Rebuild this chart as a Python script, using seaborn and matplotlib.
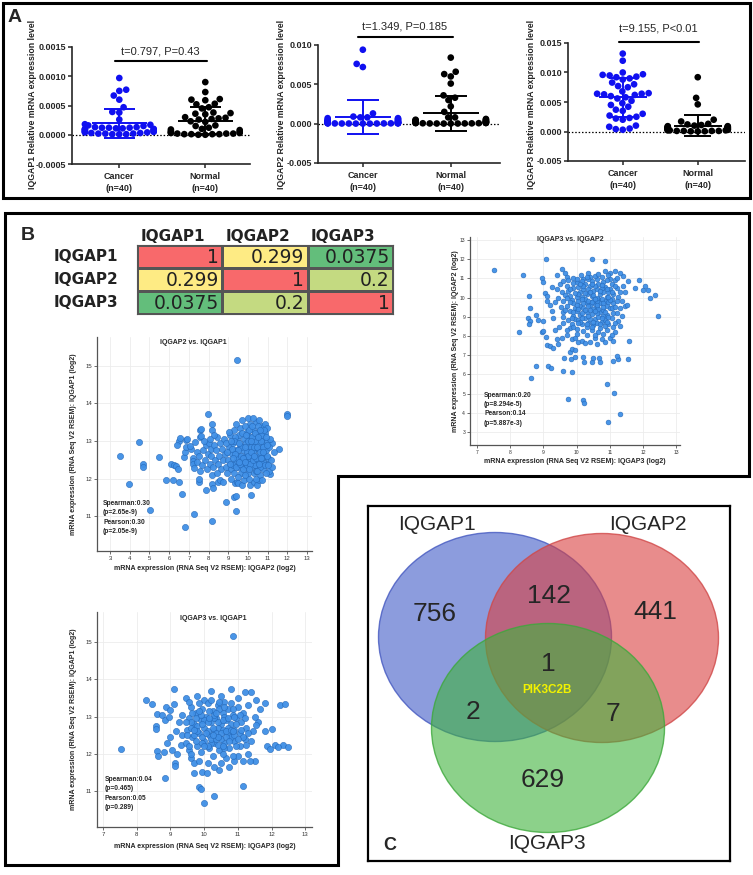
import numpy as np
import pandas as pd
import seaborn as sns
import matplotlib.pyplot as plt
from matplotlib.colors import LinearSegmentedColormap
from matplotlib.patches import Ellipse, Polygon, Rectangle
from matplotlib.ticker import FormatStrFormatter

# ---------------- data: panel A (relative mRNA expression, n=40 per group)
groups = ["Cancer", "Normal"]
iqgap1_cancer = [0.00097, 0.00077, 0.00075, 0.00067, 0.00060, 0.00047, 0.00039, 0.00038, 0.00026, 0.00018,
                 0.00017, 0.00016, 0.00015, 0.00013, 0.00013, 0.00012, 0.00012, 0.00012, 0.00011, 0.00011,
                 0.00010, 0.00010, 0.00009, 0.00009, 0.00008, 0.00007, 0.00006, 0.00006, 0.00005, 0.00005,
                 0.00004, 0.00004, 0.00003, 0.00003, 0.00002, 0.00002, 0.00002, 0.00001, 0.00001, 0.00001]
iqgap1_normal = [0.00090, 0.00073, 0.00061, 0.00060, 0.00059, 0.00053, 0.00052, 0.00047, 0.00045, 0.00038,
                 0.00037, 0.00036, 0.00035, 0.00030, 0.00029, 0.00028, 0.00027, 0.00026, 0.00023, 0.00022,
                 0.00016, 0.00015, 0.00012, 0.00010, 0.00009, 0.00008, 0.00006, 0.00005, 0.00004, 0.00003,
                 0.00003, 0.00002, 0.00002, 0.00001, 0.00001, 0.00001, 0.00000, 0.00000, 0.00001, 0.00002]
iqgap2_cancer = [0.0094, 0.0076, 0.0072, 0.0013, 0.0009, 0.0008, 0.0008, 0.0007, 0.0007, 0.0006,
                 0.0005, 0.0005, 0.0004, 0.0004, 0.0003, 0.0003, 0.0003, 0.0002, 0.0002, 0.0002,
                 0.0002, 0.0001, 0.0001, 0.0001, 0.0001, 0.0001, 0.0001, 0.00005, 0.00005, 0.00005,
                 0.00005, 0.00004, 0.00003, 0.00003, 0.00002, 0.00002, 0.00002, 0.00001, 0.00001, 0.00001]
iqgap2_normal = [0.0084, 0.0066, 0.0063, 0.0060, 0.0051, 0.0036, 0.0033, 0.0030, 0.0022, 0.0015,
                 0.0008, 0.0008, 0.0006, 0.0005, 0.0005, 0.0004, 0.0004, 0.0004, 0.0003, 0.0003,
                 0.0003, 0.0002, 0.0002, 0.0002, 0.0002, 0.0001, 0.0001, 0.0001, 0.0001, 0.0001,
                 0.00008, 0.00006, 0.00005, 0.00004, 0.00003, 0.00003, 0.00002, 0.00002, 0.00001, 0.00001]
iqgap3_cancer = [0.0132, 0.0120, 0.0100, 0.0097, 0.0096, 0.0095, 0.0093, 0.0092, 0.0090, 0.0088,
                 0.0083, 0.0080, 0.0077, 0.0075, 0.0068, 0.0065, 0.0064, 0.0064, 0.0063, 0.0062,
                 0.0060, 0.0058, 0.0056, 0.0052, 0.0048, 0.0045, 0.0042, 0.0037, 0.0035, 0.0030,
                 0.0027, 0.0025, 0.0023, 0.0022, 0.0020, 0.0010, 0.0008, 0.0005, 0.0004, 0.0003]
iqgap3_normal = [0.0092, 0.0057, 0.0046, 0.0020, 0.0017, 0.0013, 0.0012, 0.0011, 0.0010, 0.0009,
                 0.0009, 0.0008, 0.0008, 0.0007, 0.0007, 0.0007, 0.0006, 0.0006, 0.0006, 0.0005,
                 0.0005, 0.0005, 0.0005, 0.0004, 0.0004, 0.0004, 0.0003, 0.0003, 0.0003, 0.0003,
                 0.0002, 0.0002, 0.0002, 0.0001, 0.0001, 0.0001, 0.0001, 0.00005, 0.00003, 0.00002]
t_tests = ["t=0.797, P=0.43", "t=1.349, P=0.185", "t=9.155, P<0.01"]

# ---------------- data: panel B correlation table
genes = ["IQGAP1", "IQGAP2", "IQGAP3"]
corr_values = [[1, 0.299, 0.0375],
               [0.299, 1, 0.2],
               [0.0375, 0.2, 1]]

# ---------------- data: panel B scatter plots (log2 RSEM)
pts_iqgap3_iqgap2 = [
    (7.52, 11.42), (8.38, 11.18), (8.27, 8.19), (8.63, 5.82), (8.77, 6.44), (9.08, 12.0), (9.15, 6.44), (9.22, 6.32),
    (9.58, 6.2), (9.87, 6.1), (9.73, 4.7), (10.2, 4.65), (10.23, 4.52), (10.47, 12.0), (10.84, 11.93), (10.9, 5.48),
    (11.13, 5.05), (11.29, 3.94), (10.93, 3.5), (11.59, 7.76), (11.55, 6.82), (11.25, 6.8), (11.2, 6.98), (11.1, 6.7),
    (10.7, 6.64), (10.68, 6.84), (10.45, 6.63), (10.5, 6.88), (10.22, 6.64), (10.2, 6.9), (9.84, 6.8), (9.94, 6.92),
    (9.62, 6.88), (9.8, 7.17), (9.87, 7.3), (9.96, 7.27), (12.44, 9.06), (12.2, 10.0), (12.35, 10.15), (12.15, 10.42),
    (12.0, 10.42), (12.05, 10.6), (11.88, 10.9), (11.76, 10.52), (8.53, 8.92), (8.6, 8.78), (8.58, 8.6), (8.57, 10.1),
    (8.6, 9.45), (8.78, 9.1), (8.85, 8.85), (9.0, 8.77), (8.95, 11.0), (9.0, 10.8), (8.95, 8.2), (9.0, 8.25),
    (9.05, 10.25), (9.1, 10.1), (9.12, 9.85), (9.2, 9.6), (9.25, 9.3), (9.3, 8.95), (9.08, 7.95), (9.12, 7.55),
    (9.2, 7.5), (9.3, 7.35), (9.4, 7.85), (9.45, 7.6), (9.35, 8.3), (9.48, 8.45), (9.55, 7.9), (9.6, 8.7),
    (9.4, 11.18), (9.5, 10.7), (9.55, 10.3), (9.45, 10.0), (9.35, 9.75), (9.52, 9.5), (9.6, 9.25), (9.58, 9.0),
    (9.65, 11.3), (9.7, 11.05), (9.4, 10.45), (9.25, 10.55), (9.55, 11.5), (9.8, 8.4), (9.72, 8.05), (9.85, 7.85),
    (9.95, 7.9), (10.05, 7.7), (10.15, 7.72), (10.25, 7.65), (10.4, 7.7), (10.55, 7.9), (10.6, 7.6), (10.75, 7.85),
    (10.85, 7.7), (11.0, 7.9), (11.1, 7.75), (11.15, 8.2), (11.3, 8.5), (11.25, 8.8), (11.35, 9.05), (11.45, 9.55),
    (11.5, 9.6), (11.45, 10.3), (11.4, 10.6), (11.4, 11.15), (11.55, 10.85), (11.3, 11.3), (11.15, 11.4), (11.0, 11.28),
    (10.85, 11.4), (9.7, 10.6), (9.75, 10.35), (9.8, 10.1), (9.85, 9.9), (9.9, 9.7), (9.95, 9.45), (9.7, 9.55),
    (9.8, 9.3), (9.9, 9.05), (9.75, 8.85), (9.85, 8.6), (9.95, 8.9), (10.0, 10.8), (10.05, 10.55), (10.1, 10.3),
    (10.0, 10.05), (10.05, 9.8), (10.1, 9.55), (10.0, 9.3), (10.1, 9.1), (10.05, 8.85), (10.15, 8.6), (10.0, 8.35),
    (10.2, 10.95), (10.25, 10.7), (10.2, 10.45), (10.3, 10.2), (10.25, 9.95), (10.3, 9.7), (10.2, 9.45), (10.3, 9.25),
    (10.25, 8.95), (10.35, 8.7), (10.3, 8.45), (10.4, 11.1), (10.45, 10.85), (10.4, 10.6), (10.5, 10.35), (10.45, 10.1),
    (10.5, 9.85), (10.4, 9.6), (10.5, 9.4), (10.45, 9.15), (10.55, 8.9), (10.5, 8.55), (10.6, 10.95), (10.65, 10.7),
    (10.6, 10.45), (10.7, 10.2), (10.65, 9.95), (10.7, 9.7), (10.6, 9.5), (10.7, 9.25), (10.65, 9.0), (10.75, 8.75),
    (10.7, 8.4), (10.8, 10.8), (10.85, 10.55), (10.8, 10.3), (10.9, 10.05), (10.85, 9.8), (10.9, 9.55), (10.8, 9.35),
    (10.9, 9.1), (10.85, 8.85), (10.95, 8.6), (11.0, 10.95), (11.05, 10.7), (11.0, 10.45), (11.1, 10.2), (11.05, 9.95),
    (11.1, 9.7), (11.0, 9.45), (11.1, 9.2), (11.05, 8.95), (11.15, 10.9), (11.2, 10.5), (11.25, 10.05), (11.2, 9.8),
    (11.3, 9.45), (11.2, 9.2), (9.6, 10.85), (9.65, 10.15), (9.6, 9.85), (9.88, 11.0), (10.12, 11.2), (10.35, 11.3),
    (10.55, 11.15), (10.75, 11.05), (10.95, 11.2), (9.9, 10.75), (10.15, 10.85), (10.35, 10.95), (10.55, 10.6), (10.75, 10.5),
    (10.95, 10.3), (10.15, 10.05), (10.35, 9.85), (10.55, 9.65), (10.75, 9.95), (10.95, 9.75), (10.2, 9.7), (10.4, 9.35),
    (10.6, 9.2), (10.8, 9.05), (10.1, 8.75), (10.4, 8.9), (10.6, 8.7), (10.85, 8.5), (9.9, 8.45), (10.2, 8.25),
    (10.45, 8.3), (10.65, 8.2), (10.9, 8.3), (11.1, 8.45), (10.0, 8.1), (10.3, 8.05), (10.55, 8.05), (10.8, 8.1),
    (11.05, 8.05), (9.7, 8.3),
    (9.75, 10.9), (9.9, 10.5), (10.05, 10.2), (10.15, 9.95), (10.35, 10.45), (10.5, 10.15), (10.6, 9.85), (10.75, 10.65),
    (10.9, 10.45), (11.05, 10.3), (9.95, 10.25), (10.2, 10.6), (10.4, 10.3), (10.6, 10.0), (10.8, 9.7), (11.0, 9.9),
    (11.15, 10.6), (9.8, 9.75), (10.0, 9.6), (10.25, 9.35), (10.45, 9.75), (10.65, 9.4), (10.85, 9.25), (11.05, 9.45),
    (9.9, 9.25), (10.15, 9.2), (10.35, 9.05), (10.55, 9.3), (10.75, 8.95), (10.95, 9.0), (11.15, 9.5), (9.85, 8.95),
    (10.05, 8.7), (10.3, 8.6), (10.5, 8.75), (10.7, 8.6), (10.9, 8.75), (11.15, 8.7), (9.65, 9.35), (9.7, 10.0),
    (9.8, 10.45), (10.0, 10.95), (10.3, 11.05), (10.65, 11.25), (10.9, 10.9), (11.2, 11.0), (11.3, 10.3), (11.35, 9.85),
    (10.1, 10.7), (10.45, 10.7), (10.7, 10.35), (10.95, 10.05), (10.25, 10.25), (10.55, 9.95), (10.35, 9.55), (10.8, 9.5),
    (10.05, 9.4), (10.6, 9.6), (10.15, 8.95), (10.45, 8.45)]

pts_iqgap2_iqgap1 = [
    (9.45, 15.15), (7.95, 13.72), (11.97, 13.72), (11.98, 13.67), (3.5, 12.6), (4.47, 12.98), (4.67, 12.38), (4.68, 12.3),
    (3.95, 11.85), (5.5, 12.57), (5.85, 11.95), (6.2, 11.95), (6.1, 12.38), (6.25, 12.35), (6.33, 12.33), (6.45, 12.25),
    (6.5, 11.9), (6.64, 11.6), (6.5, 13.0), (6.55, 13.07), (6.85, 13.02), (6.9, 13.05), (6.4, 12.9), (6.75, 12.57),
    (6.8, 12.7), (6.85, 12.85), (7.1, 12.78), (7.05, 12.88), (7.2, 12.55), (7.22, 12.46), (7.2, 12.38), (7.25, 12.29),
    (7.4, 12.72), (7.3, 12.98), (7.55, 13.1), (7.6, 13.12), (7.58, 13.3), (7.6, 13.33), (8.19, 13.45), (8.19, 13.3),
    (7.5, 11.9), (7.52, 12.0), (7.55, 12.2), (7.85, 11.7), (8.2, 12.1), (8.2, 11.85), (8.25, 11.75), (8.5, 11.9),
    (8.6, 11.95), (8.75, 11.9), (8.87, 11.38), (9.3, 11.5), (9.4, 11.53), (9.35, 11.88), (9.45, 11.92), (9.5, 11.88),
    (9.7, 11.82), (10.16, 11.55), (10.1, 11.82), (10.3, 11.9), (10.45, 11.82), (10.55, 11.95), (11.1, 12.13), (11.6, 12.78),
    (11.2, 12.95), (5.03, 11.15), (7.26, 11.05), (9.4, 11.13), (8.16, 10.88), (6.8, 10.7),
    (7.4, 12.45), (7.5, 12.6), (7.65, 12.35), (7.7, 12.75), (7.8, 12.5), (7.85, 12.9), (7.9, 12.25), (7.95, 12.65),
    (8.0, 12.95), (8.05, 12.4), (8.1, 12.8), (8.15, 12.6), (8.25, 12.3), (8.3, 12.9), (8.35, 12.5), (8.4, 12.75),
    (8.45, 13.1), (8.5, 12.4), (8.55, 12.6), (8.6, 12.95), (8.65, 12.25), (8.7, 12.8), (8.75, 12.5), (8.8, 13.05),
    (8.3, 13.15), (8.05, 13.05), (7.75, 13.0), (8.45, 12.15), (8.9, 12.3), (8.85, 12.65),
    (9.0, 12.5), (9.05, 12.85), (9.1, 13.15), (9.15, 12.25), (9.2, 12.65), (9.25, 12.95), (9.3, 13.3), (9.3, 12.15),
    (9.35, 12.45), (9.4, 12.75), (9.45, 13.05), (9.5, 12.3), (9.55, 12.6), (9.6, 12.9), (9.6, 13.35), (9.65, 12.15),
    (9.7, 12.45), (9.75, 12.75), (9.8, 13.05), (9.85, 12.3), (9.9, 12.6), (9.9, 12.95), (9.95, 13.25), (10.0, 12.15),
    (10.0, 12.45), (10.05, 12.8), (10.1, 13.1), (10.1, 13.45), (10.15, 12.3), (10.2, 12.6), (10.2, 12.95), (10.25, 13.3),
    (10.3, 12.15), (10.3, 12.45), (10.35, 12.8), (10.4, 13.1), (10.4, 13.5), (10.45, 12.3), (10.5, 12.6), (10.5, 12.95),
    (10.55, 13.25), (10.6, 12.1), (10.6, 12.45), (10.65, 12.75), (10.7, 13.05), (10.7, 13.4), (10.75, 12.25), (10.8, 12.6),
    (10.8, 12.9), (10.85, 13.2), (10.9, 12.4), (10.9, 12.75), (10.95, 13.0), (11.0, 12.55), (11.05, 12.85), (9.4, 13.45),
    (9.7, 13.55), (9.85, 13.4), (10.0, 13.6), (10.25, 13.6), (10.55, 13.55), (10.85, 13.45), (9.15, 12.0), (9.5, 12.05),
    (9.8, 11.95), (10.05, 11.98), (10.4, 12.0), (10.7, 11.95), (11.05, 12.2), (11.15, 12.5), (11.2, 12.3), (11.3, 12.7),
    (9.95, 12.7), (10.25, 12.7), (10.55, 12.8), (10.15, 12.85), (9.65, 12.85), (9.55, 13.15), (10.35, 13.0), (10.65, 13.0),
    (10.0, 13.0), (9.85, 12.1), (10.45, 12.5), (10.75, 12.45), (9.25, 12.35), (9.45, 12.55), (9.75, 12.25), (10.1, 12.55),
    (10.35, 12.35), (10.6, 12.3), (10.9, 12.15), (9.05, 13.25), (8.95, 12.15), (9.35, 13.1), (10.95, 13.35), (11.1, 13.05),
    (9.1, 12.4), (9.2, 12.8), (9.3, 13.0), (9.4, 12.3), (9.5, 12.75), (9.55, 12.95), (9.65, 12.6), (9.7, 13.2),
    (9.8, 12.55), (9.85, 12.85), (9.95, 12.35), (10.0, 12.6), (10.05, 13.3), (10.1, 12.4), (10.15, 12.7), (10.2, 13.1),
    (10.25, 12.5), (10.3, 12.85), (10.35, 13.2), (10.4, 12.55), (10.45, 12.85), (10.5, 13.4), (10.55, 12.4), (10.6, 12.7),
    (10.65, 13.15), (10.7, 12.55), (10.75, 12.85), (10.8, 13.3), (10.85, 12.35), (10.95, 12.6), (10.95, 12.9), (11.0, 12.35),
    (9.9, 13.15), (10.2, 13.4), (10.6, 13.3), (9.6, 12.4), (9.35, 12.65), (9.75, 12.55), (10.05, 12.25), (10.4, 12.2),
    (10.75, 12.7), (10.5, 13.1), (10.15, 13.0), (9.85, 12.45), (10.3, 12.6), (10.65, 12.55), (10.45, 12.2), (9.55, 12.45),
    (10.9, 13.1), (9.25, 12.55), (8.95, 12.7), (8.9, 12.95), (9.15, 13.0)]

pts_iqgap3_iqgap1 = [
    (10.85, 15.15), (9.1, 13.73), (10.8, 13.73), (11.2, 13.67), (11.4, 13.65), (10.2, 13.68), (8.28, 13.44), (8.45, 13.33),
    (9.1, 13.33), (8.6, 13.08), (8.75, 13.05), (8.88, 13.25), (9.0, 13.18), (8.56, 12.74), (8.57, 12.66), (8.85, 12.9),
    (8.95, 13.0), (11.82, 13.37), (12.25, 13.3), (12.4, 13.34), (11.65, 13.2), (11.6, 12.85), (11.55, 12.78), (11.8, 12.6),
    (12.0, 12.66), (11.85, 12.2), (12.1, 12.24), (12.35, 12.25), (7.52, 12.12), (8.61, 12.08), (8.62, 11.93), (9.12, 11.75),
    (9.14, 11.67), (8.84, 11.36), (9.71, 11.49), (9.93, 11.52), (10.08, 11.48), (9.86, 11.12), (9.92, 11.05), (10.0, 10.68),
    (10.29, 10.86), (10.45, 11.57), (11.16, 11.14), (11.51, 11.82), (11.36, 11.82), (11.14, 11.82), (10.88, 11.82), (11.94, 12.13),
    (12.2, 12.18), (12.5, 12.18),
    (8.8, 12.05), (8.9, 12.3), (9.0, 12.45), (9.05, 12.1), (9.2, 12.0), (9.3, 12.25), (9.15, 12.6), (9.25, 12.85),
    (9.35, 13.05), (9.45, 13.5), (9.6, 11.9), (9.55, 12.1), (9.7, 11.75), (9.85, 11.8), (10.1, 11.75), (10.3, 11.65),
    (10.5, 11.75), (10.65, 11.9), (10.75, 11.65), (11.0, 11.95), (11.3, 12.0), (11.4, 12.35), (11.45, 12.6), (11.3, 13.3),
    (11.5, 13.0), (11.55, 13.45), (11.0, 13.5), (10.5, 13.55), (9.8, 13.55), (10.0, 13.45), (10.6, 13.4), (9.35, 12.5),
    (9.45, 12.3), (9.5, 12.65), (9.55, 12.95), (9.6, 13.25), (9.65, 12.45), (9.7, 12.8), (9.75, 13.1), (9.8, 12.2),
    (9.85, 12.55), (9.9, 12.9), (9.95, 13.2), (10.0, 12.35), (10.0, 12.7), (10.05, 13.0), (10.1, 13.35), (10.15, 12.15),
    (10.15, 12.5), (10.2, 12.85), (10.25, 13.15), (10.3, 12.3), (10.3, 12.65), (10.35, 12.95), (10.4, 13.3), (10.45, 12.1),
    (10.45, 12.45), (10.5, 12.8), (10.55, 13.1), (10.6, 12.3), (10.6, 12.6), (10.65, 12.9), (10.7, 13.2), (10.75, 12.15),
    (10.75, 12.5), (10.8, 12.8), (10.85, 13.05), (10.9, 12.35), (10.9, 12.65), (10.95, 12.95), (11.0, 13.25), (11.05, 12.2),
    (11.05, 12.55), (11.1, 12.85), (11.15, 13.1), (11.2, 12.4), (11.25, 12.7), (9.6, 12.0), (9.9, 12.05), (10.25, 11.95),
    (10.55, 12.0), (10.85, 11.95), (9.55, 13.4), (9.85, 13.35), (10.2, 13.45), (10.45, 13.4), (10.8, 13.35), (9.7, 12.5),
    (10.1, 12.6), (10.4, 12.7), (10.7, 12.7), (10.0, 12.9), (10.3, 12.95), (10.6, 13.0), (10.9, 13.0), (9.8, 12.75),
    (10.2, 12.3), (10.5, 12.4), (10.8, 12.45), (10.1, 12.2), (10.4, 12.25), (9.95, 12.45), (10.65, 12.45), (9.6, 12.7),
    (11.15, 12.45), (10.35, 12.55), (9.75, 12.95), (10.55, 12.65),
    (9.5, 12.5), (9.6, 12.85), (9.65, 13.1), (9.75, 12.35), (9.8, 12.6), (9.9, 13.05), (9.95, 12.3), (10.05, 12.55),
    (10.1, 12.85), (10.15, 13.15), (10.2, 12.4), (10.25, 12.7), (10.3, 13.05), (10.35, 12.4), (10.4, 12.85), (10.45, 13.2),
    (10.5, 12.55), (10.55, 12.9), (10.6, 12.15), (10.65, 12.6), (10.7, 12.95), (10.75, 12.35), (10.8, 12.65), (10.85, 13.2),
    (10.9, 12.5), (10.95, 12.8), (11.0, 12.4), (11.05, 13.05), (11.1, 12.65), (11.2, 12.95), (9.55, 12.2), (9.7, 12.65),
    (9.95, 12.8), (10.15, 12.95), (10.4, 12.45), (10.55, 12.2), (10.85, 12.6), (10.25, 12.5), (10.0, 12.2), (9.85, 13.15),
    (10.6, 13.25), (10.35, 13.1), (10.95, 12.2), (9.45, 12.85), (11.25, 12.25), (11.3, 12.55)]

scatter_titles = ["IQGAP3 vs. IQGAP2", "IQGAP2 vs. IQGAP1", "IQGAP3 vs. IQGAP1"]
scatter_xlabels = ["IQGAP3", "IQGAP2", "IQGAP3"]
scatter_ylabels = ["IQGAP2", "IQGAP1", "IQGAP1"]
scatter_stats = ["Spearman:0.20\n(p=8.294e-5)\nPearson:0.14\n(p=5.887e-3)",
                 "Spearman:0.30\n(p=2.65e-9)\nPearson:0.30\n(p=2.05e-9)",
                 "Spearman:0.04\n(p=0.465)\nPearson:0.05\n(p=0.289)"]

# ---------------- data: panel C venn counts
venn_sets = ["IQGAP1", "IQGAP2", "IQGAP3"]
venn_counts = {"100": 756, "010": 441, "001": 629, "110": 142, "101": 2, "011": 7, "111": 1}
venn_shared_gene = "PIK3C2B"

# ---------------- figure setup
sns.set_style("ticks")
plt.rcParams["font.family"] = ["Liberation Sans", "DejaVu Sans"]
W, H = 753, 875
fig = plt.figure(figsize=(W / 100, H / 100), dpi=100)


def box(l, t, r, b):
    return [l / W, 1 - b / H, (r - l) / W, (b - t) / H]


# ---------------- panel A
a_data = [(iqgap1_cancer, iqgap1_normal), (iqgap2_cancer, iqgap2_normal), (iqgap3_cancer, iqgap3_normal)]
a_boxes = [(72, 47, 250, 164), (318, 45, 500, 163), (568, 43, 745, 161)]
a_ylims = [(-0.0005, 0.0015), (-0.005, 0.010), (-0.005, 0.015)]
a_xlims = [(-0.55, 1.52), (-0.51, 1.56), (-0.73, 1.63)]
a_ysteps = [0.0005, 0.005, 0.005]
a_fmt = ["%.4f", "%.3f", "%.3f"]
a_bar_y = [0.88, 1.07, 1.01]
a_txt_y = [0.96, 1.16, 1.12]
a_label_x = [33, 282, 532]
colors = {"Cancer": "#1010F0", "Normal": "black"}

for k in range(3):
    ax = fig.add_axes(box(*a_boxes[k]))
    cancer, normal = a_data[k]
    df = pd.DataFrame({"group": ["Cancer"] * len(cancer) + ["Normal"] * len(normal),
                       "value": cancer + normal})
    sns.swarmplot(data=df, x="group", y="value", hue="group", palette=colors, order=groups,
                  size=4.8, ax=ax, legend=False, warn_thresh=1, zorder=2)
    for i, g in enumerate(groups):
        vals = np.array(a_data[k][i])
        m, sd = vals.mean(), vals.std(ddof=1)
        c = colors[g]
        ax.hlines(m, i - 0.32, i + 0.32, color=c, lw=1.4, zorder=3)
        ax.vlines(i, m - sd, m + sd, color=c, lw=1.4, zorder=3)
        ax.hlines([m - sd, m + sd], i - 0.18, i + 0.18, color=c, lw=1.4, zorder=3)
    ax.axhline(0, ls=(0, (1.2, 1.5)), color="black", lw=0.9, zorder=1)
    ax.set_ylim(*a_ylims[k])
    ax.set_xlim(*a_xlims[k])
    lo, hi = a_ylims[k]
    ax.set_yticks(np.arange(lo, hi + a_ysteps[k] / 2, a_ysteps[k]))
    ax.yaxis.set_major_formatter(FormatStrFormatter(a_fmt[k]))
    ax.set_xticks([0, 1])
    ax.set_xticklabels([g + "\n(n=40)" for g in groups], fontsize=6.5, fontweight="bold", linespacing=1.4)
    ax.tick_params(axis="y", labelsize=6.5, length=3, width=1.1, pad=1)
    ax.tick_params(axis="x", length=3, width=1.1, pad=3)
    for lab in ax.get_yticklabels():
        lab.set_fontweight("bold")
    sns.despine(ax=ax)
    ax.spines["left"].set_linewidth(1.2)
    ax.spines["bottom"].set_linewidth(1.2)
    ax.set_xlabel("")
    ax.set_ylabel("")
    ax.patch.set_alpha(0)
    tr = ax.get_xaxis_transform()
    ax.plot([-0.05, 1.02], [a_bar_y[k]] * 2, color="black", lw=1.5, transform=tr, clip_on=False)
    ax.text(0.48, a_txt_y[k], t_tests[k], transform=tr, ha="center", va="center", fontsize=8)
    fig.text(a_label_x[k] / W, 1 - 104 / H, genes[k] + " Relative mRNA expression level",
             rotation=90, ha="center", va="center", fontsize=6.3, fontweight="bold")

# ---------------- panel B: correlation table
corr_df = pd.DataFrame(corr_values, index=genes, columns=genes)
flat = np.array(corr_values).ravel()
vmin, vmax, vmid = flat.min(), flat.max(), np.median(flat)
cmap = LinearSegmentedColormap.from_list(
    "excel", [(0, "#63BE7B"), ((vmid - vmin) / (vmax - vmin), "#FFEB84"), (1, "#F8696B")])
axt = fig.add_axes(box(137, 245, 393, 314))
sns.heatmap(corr_df, ax=axt, cmap=cmap, vmin=vmin, vmax=vmax, cbar=False,
            linewidths=0.8, linecolor="#555555")
axt.set_xticks([])
axt.set_yticks([])
axt.set_xlabel("")
axt.set_ylabel("")
for s in axt.spines.values():
    s.set_visible(True)
    s.set_linewidth(0.8)
    s.set_color("#555555")
for i in range(3):
    for j in range(3):
        v = corr_values[i][j]
        axt.text(j + 0.96, i + 0.55, f"{v:g}", ha="right", va="center", fontsize=13.5,
                 color="#222222", family="DejaVu Sans")
    axt.text(i + 0.04, -0.38, genes[i], ha="left", va="center", fontsize=11,
             fontweight="bold", family="DejaVu Sans", color="#222222")
    axt.text(-0.22, i + 0.5, genes[i], ha="right", va="center", fontsize=11,
             fontweight="bold", family="DejaVu Sans", color="#222222")

# ---------------- panel B: scatter plots
sc_data = [pts_iqgap3_iqgap2, pts_iqgap2_iqgap1, pts_iqgap3_iqgap1]
sc_boxes = [(470, 237, 680, 445), (97, 337, 312, 551), (97, 612, 312, 827)]
sc_xlims = [(6.79, 13.11), (2.34, 13.25), (6.82, 13.2)]
sc_ylims = [(2.32, 13.16), (10.07, 15.77), (10.04, 15.8)]
sc_xticks = [range(7, 14), range(3, 14), range(7, 14)]
sc_yticks = [range(3, 14), range(11, 16), range(11, 16)]
sc_msize = [12, 20, 20]
sc_tick_fs = [3.6, 4.3, 4.3]
sc_title_x = [0.48, 0.45, 0.54]
sc_title_y = [0.99, 0.972, 0.972]
sc_stat_xy = [(0.067, 0.255), (0.028, 0.238), (0.037, 0.237)]
sc_ylab_x = [-0.067, -0.107, -0.107]
sc_xlab_y = [-0.08, -0.08, -0.09]

for k in range(3):
    ax = fig.add_axes(box(*sc_boxes[k]))
    xy = np.array(sc_data[k])
    sns.scatterplot(x=xy[:, 0], y=xy[:, 1], ax=ax, s=sc_msize[k], color="#3F8FE6",
                    edgecolor="#2468B8", linewidth=0.4, alpha=0.95, zorder=3)
    ax.set_xlim(*sc_xlims[k])
    ax.set_ylim(*sc_ylims[k])
    ax.set_xticks(list(sc_xticks[k]))
    ax.set_yticks(list(sc_yticks[k]))
    ax.grid(True, color="#ECECEC", lw=0.6)
    ax.set_axisbelow(True)
    sns.despine(ax=ax)
    for s in ("left", "bottom"):
        ax.spines[s].set_color("#555555")
        ax.spines[s].set_linewidth(0.9)
    ax.tick_params(labelsize=sc_tick_fs[k], length=2, width=0.5, pad=1.5, colors="#333333")
    ax.text(sc_title_x[k], sc_title_y[k], scatter_titles[k], transform=ax.transAxes,
            ha="center", va="center", fontsize=5, fontweight="bold")
    ax.text(*sc_stat_xy[k], scatter_stats[k], transform=ax.transAxes, ha="left", va="top",
            fontsize=4.8, fontweight="bold", linespacing=1.45)
    ax.text(0.5, sc_xlab_y[k], "mRNA expression (RNA Seq V2 RSEM): " + scatter_xlabels[k] + " (log2)",
            transform=ax.transAxes, ha="center", va="center", fontsize=5, fontweight="bold")
    ax.text(sc_ylab_x[k], 0.5, "mRNA expression (RNA Seq V2 RSEM): " + scatter_ylabels[k] + " (log2)",
            transform=ax.transAxes, ha="center", va="center", rotation=90, fontsize=5, fontweight="bold")

# ---------------- panel C: venn diagram
av = fig.add_axes(box(368, 506, 730, 861))
av.set_xlim(368, 730)
av.set_ylim(861, 506)
av.set_xticks([])
av.set_yticks([])
for s in av.spines.values():
    s.set_linewidth(1.6)
    s.set_color("black")
ell = {"IQGAP1": ((495, 637), "#3F5BC7", "#4458C0"),
       "IQGAP2": ((602, 638), "#D94040", "#D04848"),
       "IQGAP3": ((548, 728), "#3FB33D", "#3DA83B")}
for name in venn_sets:
    (cx, cy), fc, ec = ell[name]
    av.add_patch(Ellipse((cx, cy), 233, 209, facecolor=fc, alpha=0.6, edgecolor="none"))
    av.add_patch(Ellipse((cx, cy), 233, 209, facecolor="none", edgecolor=ec, lw=1.0, alpha=0.8))
name_pos = {"IQGAP1": (437, 525), "IQGAP2": (648, 525), "IQGAP3": (547, 844)}
for name in venn_sets:
    av.text(*name_pos[name], name, ha="center", va="center", fontsize=15)
count_pos = {"100": (435, 614), "010": (655, 612), "001": (543, 780), "110": (549, 596),
             "101": (473, 712), "011": (613, 714), "111": (548, 664)}
for key, n in venn_counts.items():
    av.text(*count_pos[key], str(n), ha="center", va="center", fontsize=19)
av.text(547, 690, venn_shared_gene, ha="center", va="center", fontsize=8.5,
        fontweight="bold", color="#F2F200")

# ---------------- panel frames and letters
ov = fig.add_axes([0, 0, 1, 1])
ov.set_xlim(0, W)
ov.set_ylim(H, 0)
ov.axis("off")
ov.patch.set_alpha(0)
ov.add_patch(Rectangle((3, 3), 747, 195, fill=False, lw=2.2, edgecolor="black"))
ov.add_patch(Polygon([(5, 213), (749, 213), (749, 476), (338, 476), (338, 865), (5, 865)],
                     closed=True, fill=False, lw=2.2, edgecolor="black"))
ov.text(15, 17, "A", fontsize=14, fontweight="bold", ha="center", va="center")
ov.text(28, 235, "B", fontsize=14, fontweight="bold", ha="center", va="center")
ov.text(390, 845, "C", fontsize=13, fontweight="bold", ha="center", va="center")

fig.savefig("out.png", dpi=100)
